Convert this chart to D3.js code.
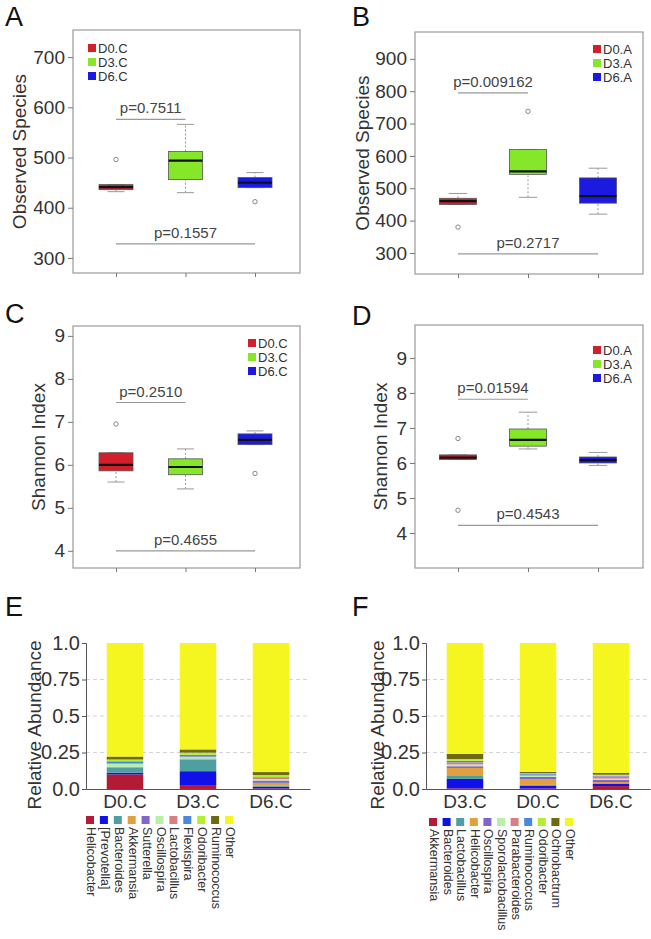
<!DOCTYPE html>
<html><head><meta charset="utf-8">
<script src="https://cdn.jsdelivr.net/npm/d3@7"></script>
<style>body{margin:0;background:#fff}text{font-family:"Liberation Sans",Arial,sans-serif}</style>
</head><body><svg id="c" width="651" height="939"></svg>
<script>
// ---------- DATA ----------
const groupsC = ["D0.C", "D3.C", "D6.C"];
const groupsA = ["D0.A", "D3.A", "D6.A"];
const groupColors = ["#d21f2b", "#86e62a", "#1c1ae0"];

// box stats: [lower whisker, Q1, median, Q3, upper whisker]
const obsC_stats = [[432, 436, 441, 446, 446], [430, 456, 494, 512, 566], [440, 440, 450, 460, 470]];
const obsC_outliers = [[496], [], [412]];
const obsC_ticks = [300, 400, 500, 600, 700];
const obsC_pvals = ["p=0.7511", "p=0.1557"];
const obsC_plines = [576, 328];

const obsA_stats = [[450, 450, 460, 469, 484], [472, 543, 552, 620, 620], [420, 454, 476, 532, 562]];
const obsA_outliers = [[380], [738], []];
const obsA_ticks = [300, 400, 500, 600, 700, 800, 900];
const obsA_pvals = ["p=0.009162", "p=0.2717"];
const obsA_plines = [795, 297];

const shC_stats = [[5.6, 5.86, 6.0, 6.28, 6.28], [5.44, 5.77, 5.95, 6.14, 6.37], [6.47, 6.47, 6.58, 6.72, 6.79]];
const shC_outliers = [[6.95], [], [5.8]];
const shC_ticks = [4, 5, 6, 7, 8, 9];
const shC_pvals = ["p=0.2510", "p=0.4655"];
const shC_plines = [7.45, 4.0];

const shA_stats = [[6.1, 6.1, 6.15, 6.23, 6.23], [6.4, 6.48, 6.66, 6.97, 7.45], [5.93, 6.0, 6.08, 6.17, 6.3]];
const shA_outliers = [[6.7, 4.65], [], []];
const shA_ticks = [4, 5, 6, 7, 8, 9];
const shA_pvals = ["p=0.01594", "p=0.4543"];
const shA_plines = [7.82, 4.22];

// relative abundance
const abundTicks = [0.0, 0.25, 0.5, 0.75, 1.0];
const abundTickLabels = ["0.0", "0.25", "0.5", "0.75", "1.0"];

const samplesE = ["D0.C", "D3.C", "D6.C"];
const taxaE = ["Helicobacter", "[Prevotella]", "Bacteroides", "Akkermansia", "Sutterella", "Oscillospira",
  "Lactobacillus", "Flexispira", "Odoribacter", "Ruminococcus", "Other"];
const valuesE = [
  [0.100, 0.027, 0.004],
  [0.012, 0.095, 0.012],
  [0.035, 0.080, 0.008],
  [0.002, 0.003, 0.018],
  [0.003, 0.003, 0.016],
  [0.020, 0.010, 0.010],
  [0.003, 0.004, 0.010],
  [0.015, 0.012, 0.004],
  [0.012, 0.015, 0.014],
  [0.020, 0.022, 0.020],
  [0.778, 0.729, 0.884]
];

const samplesF = ["D3.C", "D0.C", "D6.C"];
const taxaF = ["Akkermansia", "Bacteroides", "Lactobacillus", "Helicobacter", "Oscillospira", "Sporolactobacillus",
  "Parabacteroides", "Ruminococcus", "Odoribacter", "Ochrobactrum", "Other"];
const valuesF = [
  [0.004, 0.003, 0.020],
  [0.065, 0.020, 0.015],
  [0.025, 0.005, 0.005],
  [0.050, 0.040, 0.008],
  [0.012, 0.015, 0.015],
  [0.012, 0.008, 0.008],
  [0.015, 0.007, 0.015],
  [0.010, 0.005, 0.004],
  [0.012, 0.005, 0.008],
  [0.035, 0.010, 0.012],
  [0.760, 0.882, 0.890]
];
const taxaColors = ["#b31b34", "#1010e8", "#4f9fa0", "#e0a040", "#8066cc", "#b8f0a8",
  "#d88080", "#4a88e0", "#b0f030", "#6e6a10", "#f5f51f"];

// ---------- DRAW ----------
const svg = d3.select("#c");
const FONT = '"Liberation Sans",Arial,sans-serif';

function panelLetter(t, x, y) {
  svg.append("text").attr("x", x).attr("y", y).attr("font-size", 27).attr("fill", "#111").text(t);
}

function boxPanel(o) {
  const g = svg.append("g");
  const y = d3.scaleLinear().domain(o.domain).range([o.bottom, o.top]);
  const x = d3.scalePoint().domain(o.groups).range([o.cx0, o.cx1]);
  g.append("rect").attr("x", o.left).attr("y", o.top).attr("width", o.right - o.left).attr("height", o.bottom - o.top)
    .attr("fill", "none").attr("stroke", "#9a9a9a").attr("stroke-width", 1.2);
  const ay = g.append("g").attr("transform", `translate(${o.left},0)`)
    .call(d3.axisLeft(y).tickValues(o.ticks).tickSize(5).tickPadding(3).tickFormat(d3.format("d")));
  ay.select(".domain").remove();
  ay.selectAll("line").attr("stroke", "#777");
  ay.selectAll("text").attr("font-size", 19).attr("fill", "#333").style("font-family", FONT);
  const ax = g.append("g").attr("transform", `translate(0,${o.bottom})`)
    .call(d3.axisBottom(x).tickSize(4).tickFormat(""));
  ax.select(".domain").remove();
  ax.selectAll("line").attr("stroke", "#777");
  // y title
  g.append("text").attr("transform", `translate(${o.titleX},${(o.top + o.bottom) / 2}) rotate(-90)`)
    .attr("text-anchor", "middle").attr("font-size", 19).attr("fill", "#333").text(o.title);
  // p-lines
  o.plines.forEach((v, i) => {
    const x1 = x(o.groups[0]), x2 = x(o.groups[i + 1]);
    g.append("line").attr("x1", x1).attr("x2", x2).attr("y1", y(v)).attr("y2", y(v))
      .attr("stroke", "#999").attr("stroke-width", 1.2);
    g.append("text").attr("x", (x1 + x2) / 2).attr("y", y(v) - 6).attr("text-anchor", "middle")
      .attr("font-size", 15).attr("fill", "#444").text(o.pvals[i]);
  });
  // boxes
  const bw = o.bw;
  o.stats.forEach((s, i) => {
    const cx = x(o.groups[i]);
    g.append("line").attr("x1", cx).attr("x2", cx).attr("y1", y(s[0])).attr("y2", y(s[1]))
      .attr("stroke", "#999").attr("stroke-dasharray", "2,2");
    g.append("line").attr("x1", cx).attr("x2", cx).attr("y1", y(s[3])).attr("y2", y(s[4]))
      .attr("stroke", "#999").attr("stroke-dasharray", "2,2");
    [s[0], s[4]].forEach(v => g.append("line").attr("x1", cx - bw / 4).attr("x2", cx + bw / 4)
      .attr("y1", y(v)).attr("y2", y(v)).attr("stroke", "#999"));
    g.append("rect").attr("x", cx - bw / 2).attr("y", y(s[3])).attr("width", bw)
      .attr("height", Math.max(1, y(s[1]) - y(s[3]))).attr("fill", groupColors[i])
      .attr("stroke", "#555").attr("stroke-width", 0.8);
    g.append("line").attr("x1", cx - bw / 2).attr("x2", cx + bw / 2).attr("y1", y(s[2])).attr("y2", y(s[2]))
      .attr("stroke", "#111").attr("stroke-width", 2.2);
    o.outliers[i].forEach(v => g.append("circle").attr("cx", cx).attr("cy", y(v)).attr("r", 2.2)
      .attr("fill", "none").attr("stroke", "#888").attr("stroke-width", 1));
  });
  // legend
  o.groups.forEach((n, i) => {
    const ly = o.legY + i * 14;
    g.append("rect").attr("x", o.legX).attr("y", ly - 4).attr("width", 8).attr("height", 8).attr("fill", groupColors[i]);
    g.append("text").attr("x", o.legX + 10).attr("y", ly + 5).attr("font-size", 13).attr("fill", "#333").text(n);
  });
}

function stackPanel(o) {
  const g = svg.append("g");
  const y = d3.scaleLinear().domain([0, 1]).range([o.bottom, o.top]);
  const x = d3.scaleBand().domain(o.samples).range([o.left, o.right]).paddingInner(0.5).paddingOuter(0.284);
  // gridlines
  [0.25, 0.5, 0.75].forEach(v => g.append("line").attr("x1", o.left).attr("x2", o.right)
    .attr("y1", y(v)).attr("y2", y(v)).attr("stroke", "#d4d4dc").attr("stroke-dasharray", "4,3"));
  // stacks
  const rows = o.samples.map((s, j) => {
    const r = { sample: s };
    o.taxa.forEach((t, k) => r[t] = o.values[k][j]);
    return r;
  });
  const series = d3.stack().keys(o.taxa)(rows);
  series.forEach((ser, k) => {
    g.selectAll(null).data(ser).enter().append("rect")
      .attr("x", d => x(d.data.sample)).attr("width", x.bandwidth())
      .attr("y", d => y(d[1])).attr("height", d => y(d[0]) - y(d[1]))
      .attr("fill", taxaColors[k]);
  });
  const ay = g.append("g").attr("transform", `translate(${o.left},0)`)
    .call(d3.axisLeft(y).tickValues(abundTicks).tickSize(4).tickPadding(2).tickFormat((d, i) => abundTickLabels[i]));
  ay.select(".domain").attr("stroke", "#555");
  ay.selectAll("line").attr("stroke", "#555");
  ay.selectAll("text").attr("font-size", 20).attr("fill", "#333").style("font-family", FONT);
  const ax = g.append("g").attr("transform", `translate(0,${o.bottom})`)
    .call(d3.axisBottom(x).tickSize(0).tickPadding(6));
  ax.select(".domain").attr("stroke", "#555");
  ax.selectAll("text").attr("font-size", 19).attr("fill", "#333").style("font-family", FONT);
  g.append("text").attr("transform", `translate(${o.titleX},${o.titleY}) rotate(-90)`)
    .attr("text-anchor", "middle").attr("font-size", 19).attr("fill", "#333").text("Relative Abundance");
  // legend
  o.taxa.forEach((t, k) => {
    const lx = o.legX + k * o.legStep;
    g.append("rect").attr("x", lx).attr("y", o.legY).attr("width", 8).attr("height", 8).attr("fill", taxaColors[k]);
    g.append("text").attr("transform", `translate(${lx + 1},${o.legY + 11}) rotate(90)`)
      .attr("font-size", 12.5).attr("fill", "#333").text(t);
  });
}

panelLetter("A", 5, 26);
panelLetter("B", 352, 26);
panelLetter("C", 5, 323);
panelLetter("D", 352, 325);
panelLetter("E", 5, 616);
panelLetter("F", 352, 616);

boxPanel({ groups: groupsC, stats: obsC_stats, outliers: obsC_outliers, ticks: obsC_ticks, pvals: obsC_pvals,
  plines: obsC_plines, domain: [270, 754], left: 73, right: 300, top: 30, bottom: 273, cx0: 116, cx1: 255, bw: 34,
  title: "Observed Species", titleX: 26, legX: 88, legY: 48 });
boxPanel({ groups: groupsA, stats: obsA_stats, outliers: obsA_outliers, ticks: obsA_ticks, pvals: obsA_pvals,
  plines: obsA_plines, domain: [235, 983], left: 415, right: 643, top: 32, bottom: 274, cx0: 458, cx1: 598, bw: 37,
  title: "Observed Species", titleX: 369, legX: 593, legY: 49 });
boxPanel({ groups: groupsC, stats: shC_stats, outliers: shC_outliers, ticks: shC_ticks, pvals: shC_pvals,
  plines: shC_plines, domain: [3.6, 9.23], left: 73, right: 300, top: 326, bottom: 568, cx0: 116, cx1: 255, bw: 34,
  title: "Shannon Index", titleX: 45, legX: 248, legY: 343 });
boxPanel({ groups: groupsA, stats: shA_stats, outliers: shA_outliers, ticks: shA_ticks, pvals: shA_pvals,
  plines: shA_plines, domain: [3.0, 9.94], left: 415, right: 643, top: 325, bottom: 568, cx0: 458, cx1: 598, bw: 37,
  title: "Shannon Index", titleX: 387, legX: 593, legY: 350 });

stackPanel({ samples: samplesE, taxa: taxaE, values: valuesE, left: 86, right: 310, top: 643, bottom: 789,
  titleX: 41, titleY: 725, legX: 86, legStep: 13.9, legY: 816 });
stackPanel({ samples: samplesF, taxa: taxaF, values: valuesF, left: 426, right: 650, top: 643, bottom: 789,
  titleX: 384, titleY: 725, legX: 429, legStep: 13.6, legY: 818 });
</script></body></html>
